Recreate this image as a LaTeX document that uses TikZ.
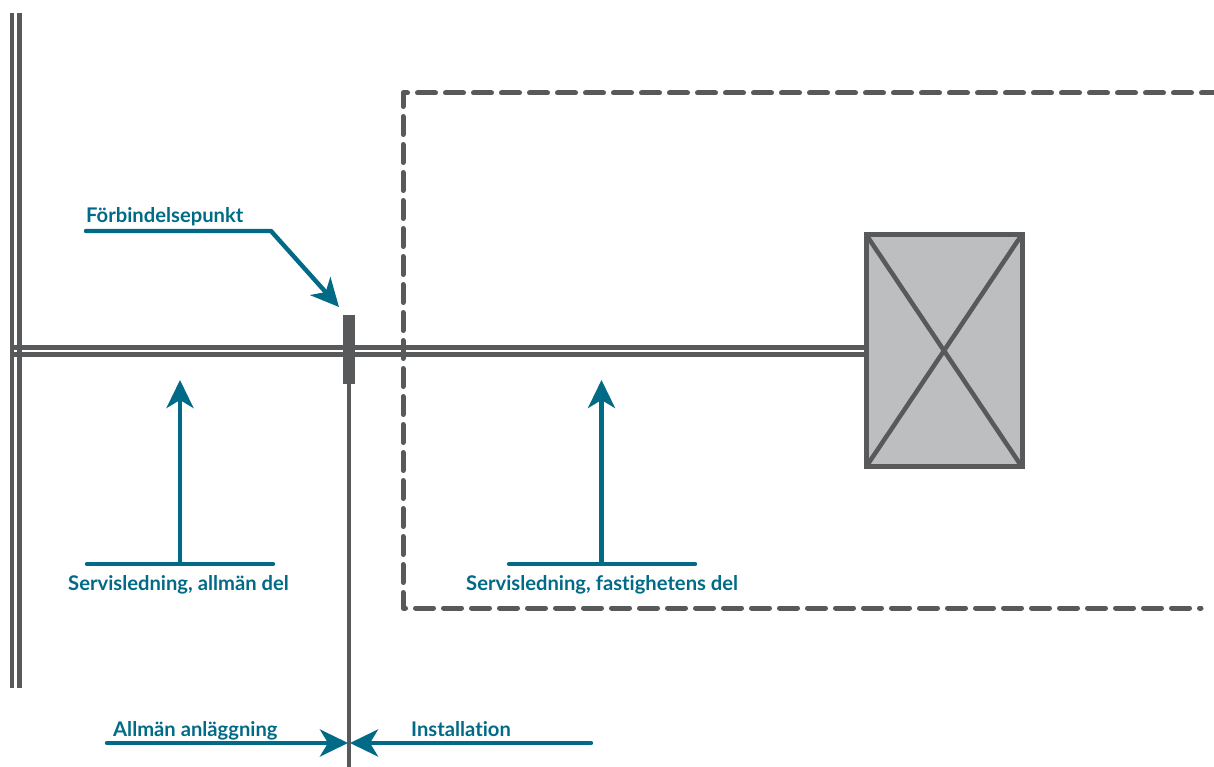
\documentclass[tikz,border=0pt]{standalone}
\usepackage{fontspec}
\setmainfont{Lato}[Ligatures=NoCommon]
\usetikzlibrary{arrows.meta}
\definecolor{teal}{HTML}{006A87}
\definecolor{grayline}{HTML}{58595B}
\definecolor{boxfill}{HTML}{BDBEC0}
\tikzset{
  pipe/.style={draw=grayline,line width=4.8pt},
  thinpipe/.style={draw=grayline,line width=4.3pt},
  dashedrim/.style={draw=grayline,line width=5pt,line cap=round,line join=round,dash pattern=on 18pt off 10pt,dash phase=5.5pt},
  leader/.style={draw=teal,line width=4.4pt,line cap=round,line join=round},
  pointer/.style={leader,-{Stealth[length=28pt,width=27pt,inset=8pt]}},
  lab/.style={text=teal,font=\bfseries\fontsize{20.2}{24}\selectfont,inner sep=0pt,anchor=base west},
  coupling/.style={fill=grayline,draw=none,minimum width=12pt,minimum height=69pt,inner sep=0pt},
  meter/.style={draw=grayline,line width=5pt,fill=boxfill,minimum width=156pt,minimum height=232.5pt,inner sep=0pt,outer sep=0pt}
}
\begin{document}
\begin{tikzpicture}[x=1pt,y=-1pt]
\useasboundingbox (0,0) rectangle (1214,767);
\coordinate (mainAtop) at (12,13);
\coordinate (mainAbot) at (12,688);
\coordinate (mainBtop) at (19.5,13);
\coordinate (mainBbot) at (19.5,688);
\coordinate (svcAstart) at (10,347.5);
\coordinate (svcBstart) at (10,354.5);
\coordinate (boundBot) at (349,767);
\coordinate (rimTR) at (1214,93);
\coordinate (rimTL) at (403,93);
\coordinate (rimBL) at (403,608);
\coordinate (rimBR) at (1201,608);
\node[meter] (meter) at (944,350.7) {};
\coordinate (svcAend) at (meter.west |- svcAstart);
\coordinate (svcBend) at (meter.west |- svcBstart);
\draw[pipe] (mainAtop) -- (mainAbot);
\draw[pipe] (mainBtop) -- (mainBbot);
\draw[thinpipe] (svcAstart) -- (svcAend);
\draw[thinpipe] (svcBstart) -- (svcBend);
\draw[draw=grayline,line width=4.5pt] (meter.north west) -- (meter.south east);
\draw[draw=grayline,line width=4.5pt] (meter.north east) -- (meter.south west);
\draw[dashedrim] (rimTR) -- (rimTL) -- (rimBL) -- (rimBR);
\node[coupling] (coupling) at (349,349.5) {};
\draw[pipe] (coupling.south) -- (boundBot);
\node[lab] (lblF) at (86,222.5) {Förbindelsepunkt};
\node[lab] (lblA) at (68,590) {Servisledning, allmän del};
\node[lab] (lblB) at (466,590) {Servisledning, fastighetens del};
\node[lab] (lblC) at (113,736) {Allmän anläggning};
\node[lab] (lblD) at (411,736) {Installation};
\coordinate (fA) at (86,231);
\coordinate (fB) at (271,231);
\coordinate (fTip) at (339,307);
\draw[pointer] (fA) -- (fB) -- (fTip);
\coordinate (aA) at (87,564);
\coordinate (aB) at (273,564);
\coordinate (aFoot) at (180,564);
\coordinate (aTip) at (180,380);
\draw[leader] (aA) -- (aB);
\draw[pointer] (aFoot) -- (aTip);
\coordinate (bA) at (509,564);
\coordinate (bB) at (695,564);
\coordinate (bFoot) at (601.5,564);
\coordinate (bTip) at (601.5,380);
\draw[leader] (bA) -- (bB);
\draw[pointer] (bFoot) -- (bTip);
\coordinate (cA) at (107,743);
\coordinate (cTip) at (348,743);
\coordinate (dA) at (591,743);
\coordinate (dTip) at (350,743);
\draw[pointer] (cA) -- (cTip);
\draw[pointer] (dA) -- (dTip);
\end{tikzpicture}
\end{document}
